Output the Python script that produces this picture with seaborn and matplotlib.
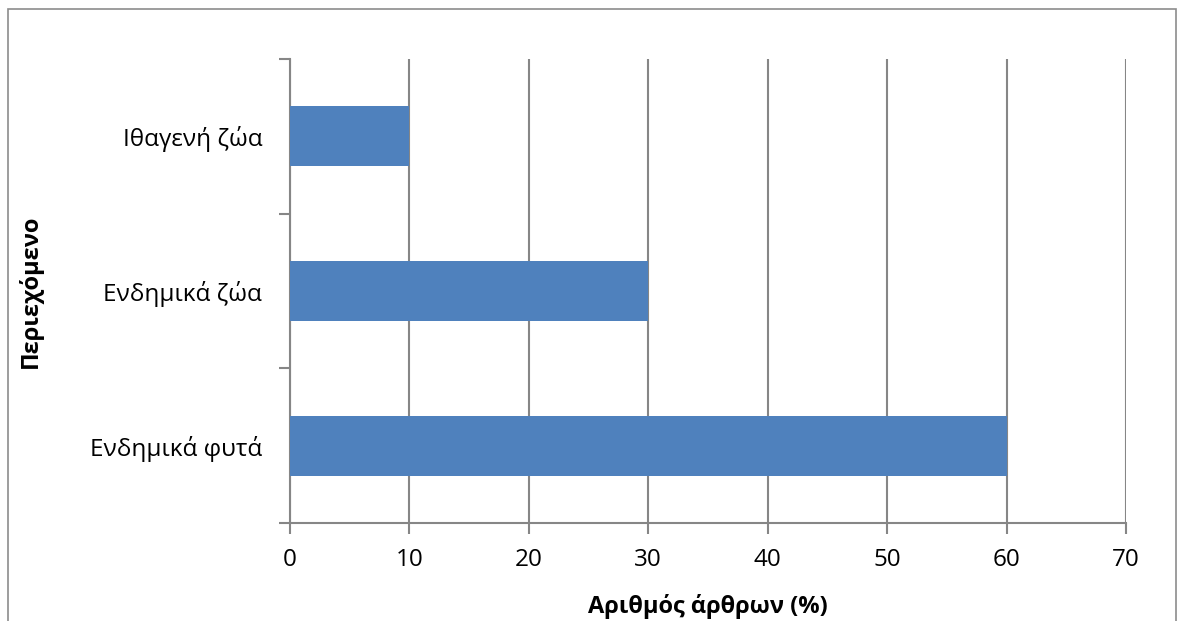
import matplotlib
matplotlib.use('Agg')
import matplotlib.pyplot as plt
import seaborn as sns
import pandas as pd
from matplotlib.patches import Rectangle

sns.set_style('white')
plt.rcParams['font.family'] = ['Open Sans', 'DejaVu Sans']
plt.rcParams['text.color'] = 'black'
plt.rcParams['axes.labelcolor'] = 'black'
plt.rcParams['xtick.labelcolor'] = 'black'
plt.rcParams['ytick.labelcolor'] = 'black'

# data
categories = ['Ιθαγενή ζώα', 'Ενδημικά ζώα', 'Ενδημικά φυτά']
values = [10, 30, 60]
x_ticks = [0, 10, 20, 30, 40, 50, 60, 70]

df = pd.DataFrame({'cat': categories, 'val': values})

grid_col = '#868686'
bar_col = '#4F81BD'

fig = plt.figure(figsize=(11.78, 6.21), dpi=100)
ax = fig.add_axes([290 / 1178, 1 - 523 / 621, 836 / 1178, 464 / 621])

sns.barplot(data=df, x='val', y='cat', order=categories, color=bar_col,
            width=0.39, saturation=1, linewidth=0, ax=ax, zorder=3)

ax.set_xlim(0, 70)
ax.set_ylim(2.5, -0.5)
ax.set_xticks(x_ticks)
ax.set_xticklabels([str(t) for t in x_ticks])

# y ticks between categories, labels at centres
ax.set_yticks([-0.5, 0.5, 1.5, 2.5])
ax.set_yticklabels([])
ax.set_yticks([0, 1, 2], minor=True)
ax.set_yticklabels(categories, minor=True)
ax.tick_params(axis='y', which='major', length=8, width=1.5, color=grid_col, left=True)
ax.tick_params(axis='y', which='minor', length=0, pad=20, labelsize=17.5)
ax.tick_params(axis='x', length=8, width=1.5, color=grid_col, bottom=True,
               labelsize=17.5, pad=10)

ax.xaxis.grid(True, color=grid_col, linewidth=1.5, zorder=0)
ax.set_axisbelow(True)
for s in ['top', 'right']:
    ax.spines[s].set_visible(False)
for s in ['left', 'bottom']:
    ax.spines[s].set_color(grid_col)
    ax.spines[s].set_linewidth(1.5)

ax.set_xlabel('Αριθμός άρθρων (%)', fontsize=17, fontweight='bold', labelpad=16)
ax.set_ylabel('Περιεχόμενο', fontsize=17, fontweight='bold')
ax.yaxis.set_label_coords(-247 / 836, 0.5)

# chart area border
fig.add_artist(Rectangle((8 / 1178, -0.05), 1168 / 1178, 1.05 - 9 / 621,
                         transform=fig.transFigure, fill=False,
                         edgecolor='#8c8c8c', linewidth=1.2))

fig.savefig('out.png', dpi=100)
plt.close()
